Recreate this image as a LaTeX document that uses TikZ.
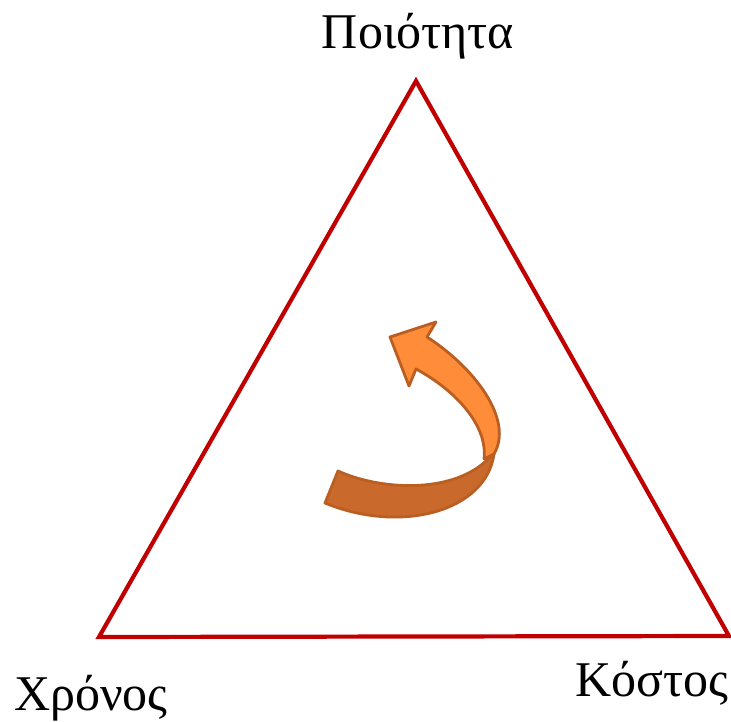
\documentclass[tikz,border=0pt]{standalone}
\usepackage{fontspec}
\setmainfont{Liberation Serif}
\definecolor{tri}{RGB}{192,0,0}
\definecolor{arrlight}{RGB}{255,140,56}
\definecolor{arrdark}{RGB}{201,106,44}
\definecolor{arredge}{RGB}{186,94,34}
\begin{document}
\begin{tikzpicture}[x=1pt,y=-1pt,
  lbl/.style={inner sep=0pt,font=\fontsize{50}{60}\selectfont},
  arrpart/.style={draw=arredge,line width=2.8pt,line join=round}]
\useasboundingbox (0,0) rectangle (731,721);
\coordinate (top) at (416,81);
\coordinate (left) at (99,637);
\coordinate (right) at (729,636);
\draw[tri,line width=4.2pt,line join=miter] (top) -- (right) -- (left) -- cycle;
\node[lbl,anchor=base] (q) at (418,48) {Ποιότητα};
\node[lbl,anchor=base west] (t) at (14,710) {Χρόνος};
\node[lbl,anchor=base west] (c) at (575,696) {Κόστος};
% dark lower ribbon
\filldraw[arrpart,fill=arrdark] (338,471) .. controls (380,490) and (450,494) .. (486,461)
  -- (494,454) .. controls (486,512) and (400,534) .. (325,503) -- cycle;
% light upper ribbon with head
\filldraw[arrpart,fill=arrlight] (427,337) .. controls (475,368) and (514,420) .. (494,454)
  -- (484,459) .. controls (488,425) and (455,390) .. (416,369)
  -- (409,386) -- (390,337) -- (436,322) -- cycle;
\end{tikzpicture}
\end{document}
